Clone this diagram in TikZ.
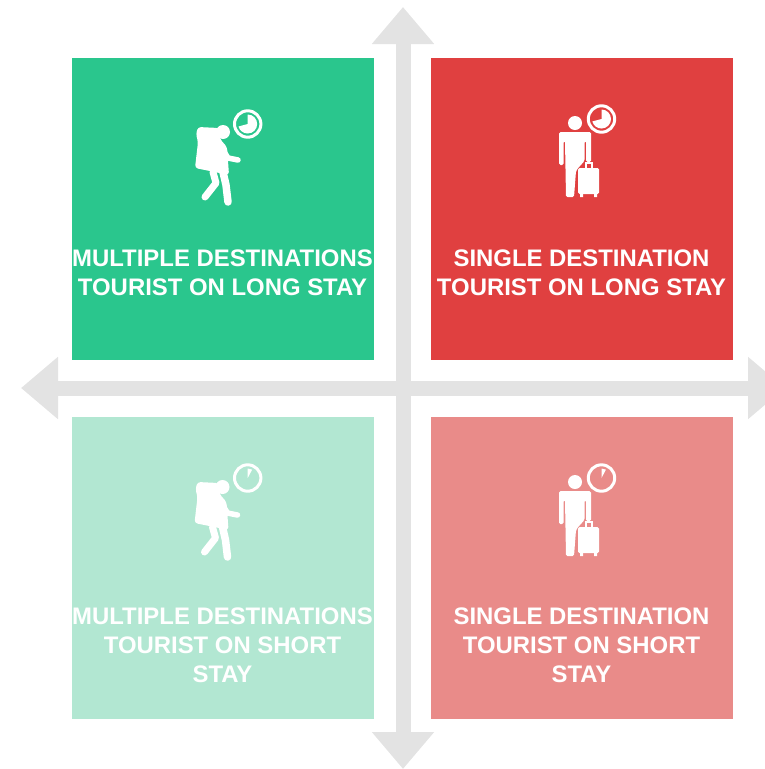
\documentclass[tikz,border=0pt]{standalone}
\usepackage{fontspec}
\setmainfont{Liberation Sans}
\usetikzlibrary{arrows.meta}
\usetikzlibrary{positioning}

\definecolor{longgreen}{HTML}{2AC68D}
\definecolor{longred}{HTML}{E04040}
\definecolor{shortgreen}{HTML}{B2E7D2}
\definecolor{shortred}{HTML}{E98B89}
\definecolor{axisgrey}{HTML}{E3E3E3}

\tikzset{
  quadrant/.style={minimum width=302pt,minimum height=302pt,inner sep=0pt,outer sep=0pt},
  caption/.style={font=\fontsize{23.9}{29}\selectfont\bfseries,text=white,align=center,inner sep=0pt},
  axisline/.style={draw=axisgrey,line width=15pt,{Triangle[width=60pt,length=37pt]}-{Triangle[width=60pt,length=37pt]}},
  limb/.style={draw=white,line width=7pt,line cap=round,line join=round},
  pics/clockface/.style={code={
    \draw[white,line width=3pt] (0,0) circle (13.2);
    \fill[white] (0,0) -- (0,-9.5) arc[start angle=-90,delta angle=#1,radius=9.5] -- cycle;
  }},
  pics/backpacker/.style={code={
    \fill[white] (-14,-5) circle (7);
    \fill[white,rounded corners=3pt] (-39,-10) -- (-18,-9) -- (-17,2) -- (-10,10) -- (-8,38) -- (-27,34) -- (-42,31) -- (-39,5) -- (-41,-3) -- cycle;
    \draw[limb,line width=5.5pt] (-14,13) -- (-9,21) -- (1,23);
    \draw[limb] (-24,35) -- (-21,46) -- (-32,60);
    \draw[limb,line width=7.5pt] (-14,35) -- (-11,48) -- (-9,65);
  }},
  pics/suitcaseman/.style={code={
    \fill[white] (1,-2) circle (7);
    \fill[white,rounded corners=1.5pt] (-15,7) -- (17,7) -- (17,37) -- (12,37) -- (12,16) -- (10.5,16) -- (10.5,36) -- (5,42) -- (2,46) -- (0,72) -- (-8,72) -- (-9,16) -- (-10.5,16) -- (-10.5,40) -- (-15,40) -- cycle;
    \draw[white,line width=1.8pt] (12,43) -- (12,38) -- (18,38) -- (18,43);
    \fill[white,rounded corners=1.5pt] (4,43) rectangle (25,69);
    \fill[white] (6,68) rectangle (9,72) (20,68) rectangle (23,72);
  }},
}

\begin{document}
\begin{tikzpicture}[x=1pt,y=-1pt]
\useasboundingbox (0,0) rectangle (764,769);

% axes
\coordinate (top) at (403,7);
\coordinate (bottom) at (403,769);
\coordinate (left) at (21,388);
\coordinate (right) at (785,388);
\draw[axisline] (bottom) -- (top);
\draw[axisline] (left) -- (right);

% quadrants
\node[quadrant,fill=longgreen] (multilong) at (223,209) {};
\node[quadrant,fill=longred] (singlelong) at (582,209) {};
\node[quadrant,fill=shortgreen] (multishort) at (223,568) {};
\node[quadrant,fill=shortred] (singleshort) at (582,568) {};

% captions
\node[caption] (multilongtext) at (222.5,272.5) {MULTIPLE DESTINATIONS\\TOURIST ON LONG STAY};
\node[caption] (singlelongtext) at (581.5,272.5) {SINGLE DESTINATION\\TOURIST ON LONG STAY};
\node[caption] (multishorttext) at (222.5,645) {MULTIPLE DESTINATIONS\\TOURIST ON SHORT\\STAY};
\node[caption] (singleshorttext) at (581.5,645) {SINGLE DESTINATION\\TOURIST ON SHORT\\STAY};

% icons
\pic at (237,137) {backpacker};
\pic at (236.5,492) {backpacker};
\pic at (574,125) {suitcaseman};
\pic at (574,484) {suitcaseman};
\pic at (247.7,124) {clockface=255};
\pic at (601.5,119) {clockface=255};
\pic at (247.7,478) {clockface=28};
\pic at (601.5,478) {clockface=28};

\end{tikzpicture}
\end{document}
